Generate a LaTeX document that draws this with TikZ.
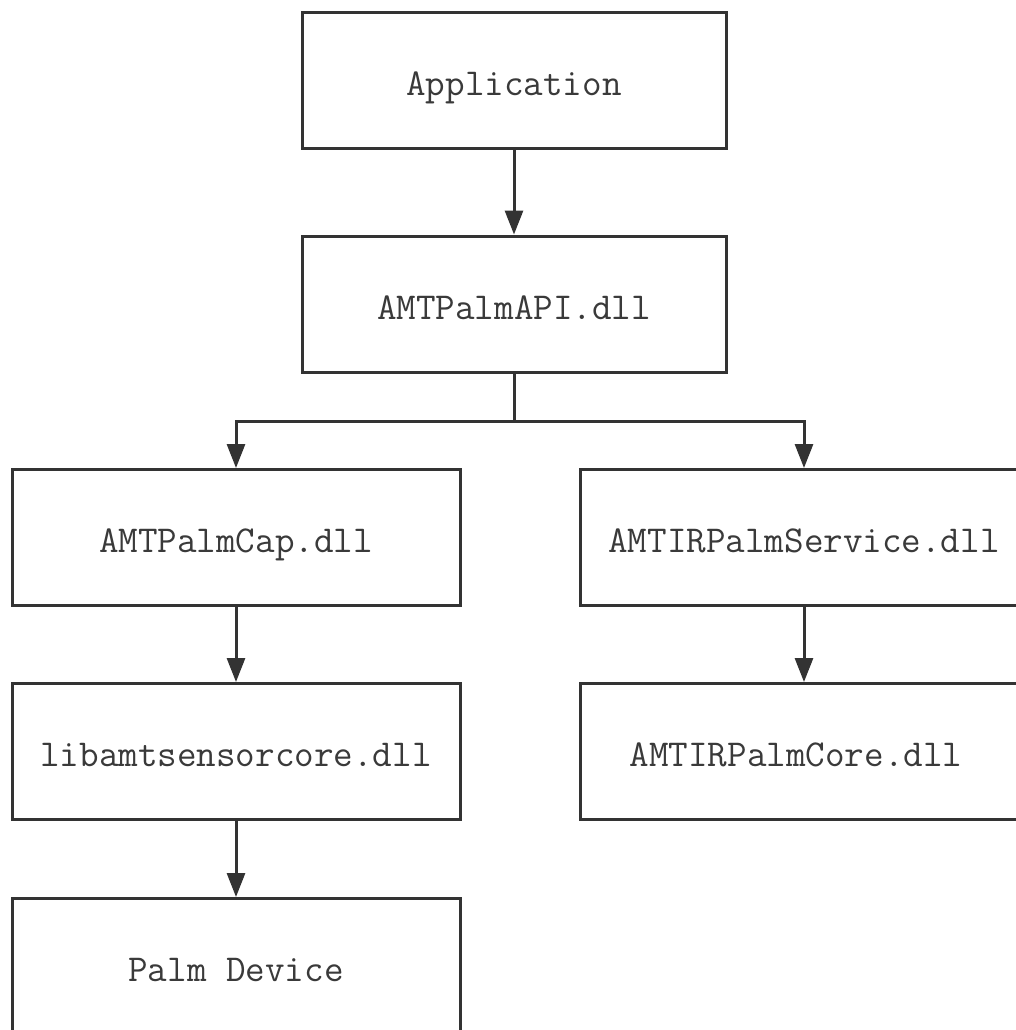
\documentclass[tikz,border=0pt]{standalone}
\usepackage{xcolor}
\definecolor{boxLine}{HTML}{333333}
\definecolor{boxText}{HTML}{3A3A3A}
\usepackage{tikz}
\usetikzlibrary{arrows.meta,positioning,calc}

\begin{document}
\begin{tikzpicture}[
  font=\fontsize{19}{22}\selectfont\ttfamily,
  blk/.style={draw=boxLine,line width=1.5pt,fill=white,text=boxText,
              minimum width=212pt,minimum height=68pt,inner sep=0pt,
              text height=15pt,text depth=0pt},
  wide/.style={blk,minimum width=224pt},
  arr/.style={-{Triangle[length=12pt,width=9pt]},line width=1.5pt,boxLine}
]
\useasboundingbox (0,0) rectangle (508pt,-515pt);
\clip (0,0) rectangle (508pt,-515pt);

\node[blk] (app) at (257pt,-40pt) {Application};
\node[blk, below=42.5pt of app] (api) {AMTPalmAPI.dll};
\node[wide] (cap) at (118pt,-268.75pt) {AMTPalmCap.dll};
\node[wide, right=58.5pt of cap] (svc) {AMTIRPalmService.dll};
\node[wide, below=37.5pt of cap] (sensor) {libamtsensorcore.dll};
\node[wide, below=37.5pt of svc] (core) {\hspace*{-8pt}AMTIRPalmCore.dll};
\node[wide, below=38pt of sensor] (dev) {Palm Device};

\draw[arr] (app.south) -- (api.north);
\draw[arr] (api.south) -- ++(0,-24pt) -| (cap.north);
\draw[arr] (api.south) -- ++(0,-24pt) -| (svc.north);
\draw[arr] (cap.south) -- (sensor.north);
\draw[arr] (svc.south) -- (core.north);
\draw[arr] (sensor.south) -- (dev.north);
\end{tikzpicture}
\end{document}
